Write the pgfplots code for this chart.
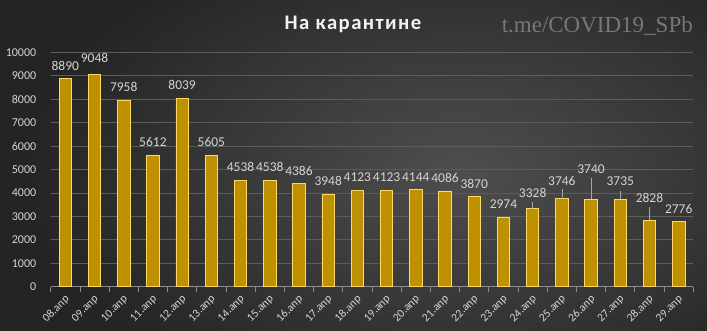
\documentclass[border=0pt]{standalone}
\usepackage{pgfplots}
\pgfplotsset{compat=1.18}
\usepackage{pgfplotstable}
\usepackage{fontspec}
\setmainfont{Carlito}
\newfontfamily\titlefont[LetterSpace=7]{Carlito}
\newfontfamily\wmfont{Liberation Serif}
\definecolor{bgdark}{HTML}{242424}
\definecolor{bglight}{HTML}{4E4E4E}
\definecolor{barfill}{HTML}{BF9000}
\definecolor{baredge}{HTML}{FFD966}
\definecolor{txt}{HTML}{D4D4D4}
\definecolor{gridc}{HTML}{5C5C5C}
\definecolor{axisc}{HTML}{8C8C8C}
\definecolor{leader}{HTML}{A6A6A6}
\definecolor{wm}{HTML}{777777}
\definecolor{titlec}{HTML}{F2F2F2}

\pgfplotstableread{
x y off
0 8890 12.2
1 9048 16.5
2 7958 12.8
3 5612 13
4 8039 12.9
5 5605 13.3
6 4538 13.6
7 4538 13.6
8 4386 12.9
9 3948 13
10 4123 12.7
11 4123 12.7
12 4144 12.2
13 4086 12.6
14 3870 11.7
15 2974 12.7
16 3328 15.4
17 3746 18.2
18 3740 30
19 3735 17.8
20 2828 22.7
21 2776 12.3
}\quarantine

\begin{document}
\begin{tikzpicture}[x=1pt,y=1pt]
\useasboundingbox (0,0) rectangle (707,331);
\fill[bgdark] (0,0) rectangle (707,331);
\begin{scope}
\clip (0,0) rectangle (707,331);
\shade[inner color=bglight, outer color=bgdark] (460,160) ellipse [x radius=440, y radius=250];
\end{scope}
\node[anchor=base, text=titlec, font=\titlefont\bfseries\fontsize{20.7}{24}\selectfont] at (353,301) {На карантине};
\node[anchor=base east, text=wm, font=\wmfont\fontsize{23}{27}\selectfont, inner sep=0pt] at (693,298) {t.me/COVID19\_SPb};
\begin{axis}[
  at={(50.7pt,44.3pt)}, anchor=south west,
  scale only axis, width=642.6pt, height=234.4pt,
  xmin=-0.5, xmax=21.5, ymin=0, ymax=10000,
  ytick={0,1000,...,10000},
  scaled y ticks=false,
  xtick={-0.5,0.5,...,21.5},
  x tick label as interval,
  xticklabels={08.апр,09.апр,10.апр,11.апр,12.апр,13.апр,14.апр,15.апр,16.апр,17.апр,18.апр,19.апр,20.апр,21.апр,22.апр,23.апр,24.апр,25.апр,26.апр,27.апр,28.апр,29.апр},
  ymajorgrids, grid style={gridc, line width=0.8pt},
  axis x line*=bottom, axis y line*=left,
  y axis line style={draw=none},
  x axis line style={axisc, line width=0.8pt, -},
  tick align=outside, major tick length=5pt,
  xtick style={axisc, line width=0.8pt},
  ytick style={draw=none},
  tick label style={text=txt},
  yticklabel style={font=\fontsize{12}{14}\selectfont, xshift=-6pt},
  xticklabel style={font=\fontsize{11.5}{13}\selectfont, xshift=3pt, yshift=-5pt, rotate=45, anchor=east, inner sep=1pt},
  /pgf/number format/assume math mode=true,
  /pgf/number format/set thousands separator={},
  clip=false,
]
\addplot[ybar, bar width=12.4pt, fill=barfill, draw=baredge, line width=0.8pt,
  nodes near coords,
  visualization depends on={\thisrow{off}\as\off},
  every node near coord/.append style={anchor=center, yshift=\off pt, font=\fontsize{13.5}{15}\selectfont, text=txt, inner sep=0pt},
] table[x=x,y=y]{\quarantine};
\addplot[leader, line width=0.7pt] coordinates {(16,3328) (16,3601)};
\addplot[leader, line width=0.7pt] coordinates {(17,3746) (17,4155)};
\addplot[leader, line width=0.7pt] coordinates {(18,3740) (18,4637)};
\addplot[leader, line width=0.7pt] coordinates {(19,3735) (19,4096)};
\addplot[leader, line width=0.7pt] coordinates {(20,2828) (20,3387)};
\end{axis}
\end{tikzpicture}
\end{document}
